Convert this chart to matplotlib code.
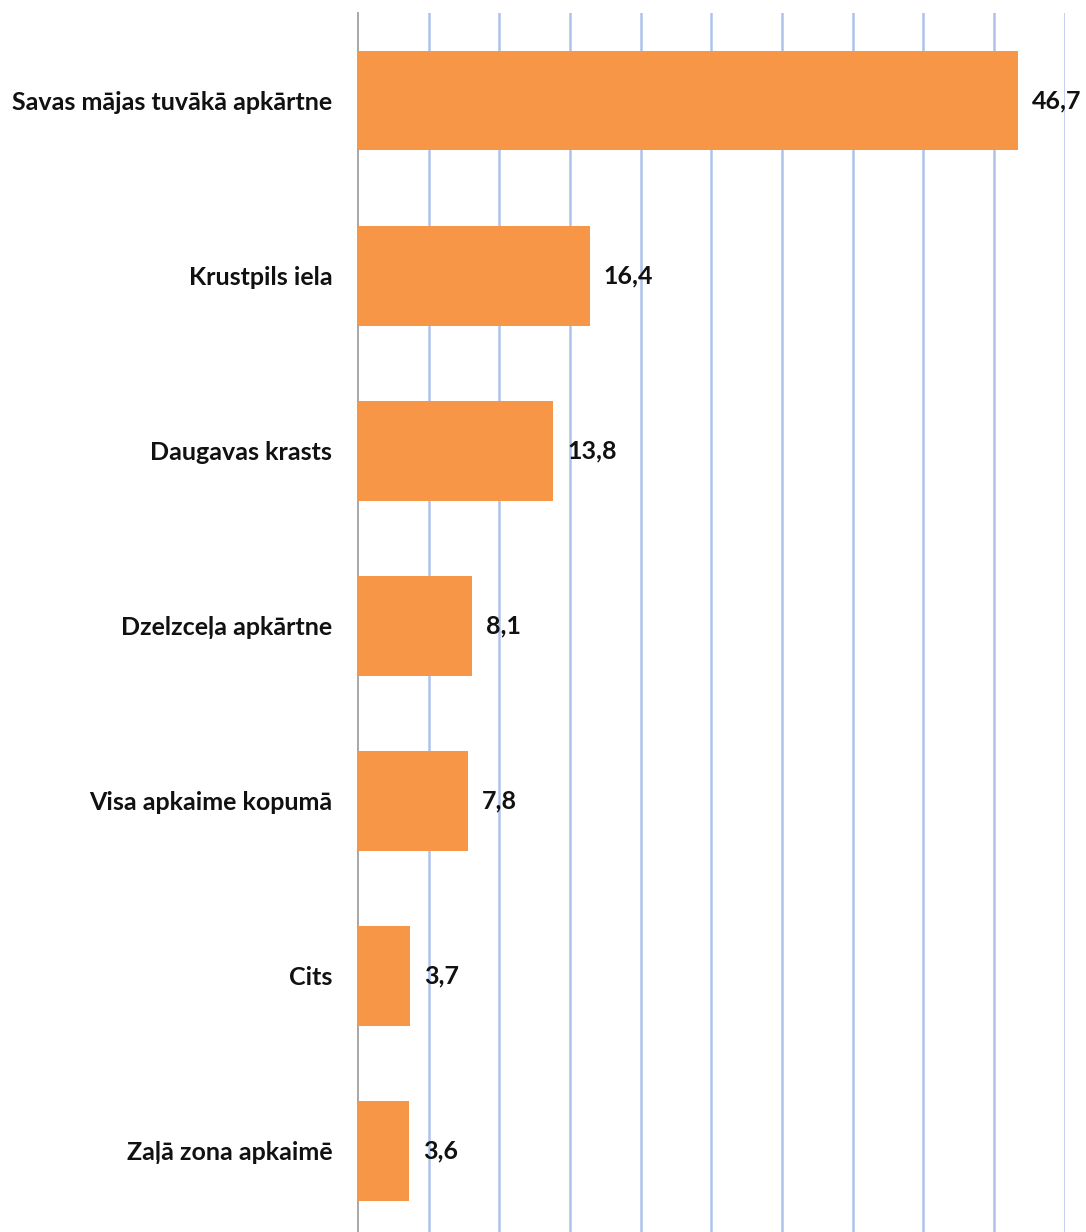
import matplotlib
matplotlib.use("Agg")
import matplotlib.pyplot as plt

categories = ["Savas mājas tuvākā apkārtne", "Krustpils iela", "Daugavas krasts",
              "Dzelzceļa apkārtne", "Visa apkaime kopumā", "Cits", "Zaļā zona apkaimē"]
values = [46.7, 16.4, 13.8, 8.1, 7.8, 3.7, 3.6]
value_labels = ["46,7", "16,4", "13,8", "8,1", "7,8", "3,7", "3,6"]

W, H = 1086, 1232
fig = plt.figure(figsize=(W/100, H/100), dpi=100)
left = 358 / W
right = 1064.6 / W
top = 1 - 13 / H
bottom = -6.5 / H
ax = fig.add_axes([left, bottom, right - left, top - bottom])

ypos = list(range(len(categories)))
ax.barh(ypos, values, height=0.57, color="#f79646", zorder=3)
ax.set_ylim(len(categories) - 0.5, -0.5)
ax.set_xlim(0, 50)
ax.set_xticks(range(5, 51, 5))
ax.xaxis.grid(True, color="#adc3ea", linewidth=1.8, zorder=0)
ax.tick_params(axis="x", length=0, labelbottom=False)
ax.tick_params(axis="y", length=0, pad=18.5)
ax.set_yticks(ypos)
ax.set_yticklabels(categories, fontsize=18, fontweight="bold", family="Lato", color="#111111")
for s in ["top", "right", "bottom"]:
    ax.spines[s].set_visible(False)
ax.spines["left"].set_color("#a0a0a0")
ax.spines["left"].set_linewidth(1.3)

for y, v, lab in zip(ypos, values, value_labels):
    ax.annotate(lab, (v, y), xytext=(14, 0), textcoords="offset pixels",
                va="center", ha="left", fontsize=18, fontweight="bold",
                family="Lato", color="#111111", annotation_clip=False)

fig.savefig("out.png", dpi=100)
